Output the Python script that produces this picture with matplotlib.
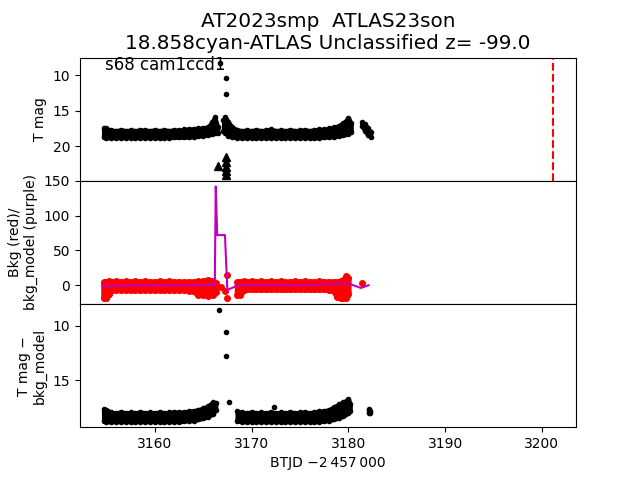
import matplotlib
matplotlib.use("Agg")
import matplotlib.pyplot as plt

# ---- top panel: T mag (dense band given as upper/lower envelope) ----
t_top_left = [3154.7, 3155.0, 3155.5, 3156.0, 3156.5, 3157.0, 3157.5, 3158.0, 3158.5,
              3159.0, 3159.5, 3160.0, 3160.5, 3161.0, 3161.5, 3162.0, 3162.5, 3163.0,
              3163.5, 3164.0, 3164.5, 3165.0, 3165.5, 3165.9, 3166.2, 3166.5]
mag_top_left_hi = [17.4, 17.5, 17.75, 17.8, 17.7, 17.8, 17.75, 17.8, 17.7, 17.75, 17.8, 17.7,
                   17.8, 17.7, 17.8, 17.7, 17.75, 17.65, 17.6, 17.55, 17.5, 17.4, 17.3, 16.6,
                   15.9, 17.3]
mag_top_left_lo = [18.75, 18.8, 18.8, 18.8, 18.8, 18.8, 18.8, 18.8, 18.8, 18.8, 18.8, 18.8,
                   18.8, 18.8, 18.8, 18.75, 18.75, 18.75, 18.7, 18.65, 18.6, 18.5, 18.4,
                   18.3, 18.2, 18.1]
t_top_right = [3167.1, 3167.3, 3167.6, 3168.0, 3168.5, 3169.0, 3169.5, 3170.0, 3170.5,
               3171.0, 3171.5, 3172.0, 3172.5, 3173.0, 3173.5, 3174.0, 3174.5, 3175.0,
               3175.5, 3176.0, 3176.5, 3177.0, 3177.5, 3178.0, 3178.5, 3179.0, 3179.5,
               3180.0, 3180.3]
mag_top_right_hi = [16.3, 15.9, 16.6, 17.3, 17.7, 17.8, 17.75, 17.8, 17.7, 17.8, 17.75, 17.6,
                    17.8, 17.75, 17.8, 17.7, 17.8, 17.75, 17.7, 17.8, 17.7, 17.65, 17.6,
                    17.5, 17.35, 17.1, 16.7, 16.0, 16.8]
mag_top_right_lo = [17.9, 18.2, 18.5, 18.7, 18.8, 18.8, 18.8, 18.8, 18.8, 18.8, 18.8, 18.8,
                    18.8, 18.8, 18.8, 18.8, 18.8, 18.8, 18.8, 18.8, 18.8, 18.8, 18.75, 18.7,
                    18.65, 18.55, 18.45, 18.25, 18.0]
t_top_tail = [3181.4, 3181.7, 3182.0, 3182.3]
mag_top_tail_hi = [16.6, 16.9, 17.4, 18.0]
mag_top_tail_lo = [17.2, 17.8, 18.4, 18.7]
t_top_bright = [3166.7, 3167.35, 3167.35]
mag_top_bright = [8.3, 10.4, 12.6]
t_limits = [3166.5, 3167.35, 3167.35, 3167.35, 3167.35, 3167.35]
mag_limits = [22.8, 21.5, 22.2, 22.9, 23.5, 24.1]
t_marker = 3201.2

# ---- middle panel: background (red) and background model (purple) ----
t_bkg_left = [3154.7, 3155.0, 3155.3, 3155.6, 3156.0, 3156.5, 3157.0, 3157.5, 3158.0, 3158.5,
              3159.0, 3159.5, 3160.0, 3160.5, 3161.0, 3161.5, 3162.0, 3162.5, 3163.0, 3163.5,
              3164.0, 3164.5, 3165.0, 3165.5, 3166.0, 3166.3]
bkg_left_hi = [4, 5, 5.5, 5, 5.5, 5, 5.5, 5, 5.5, 5, 5.5, 5, 5, 5.5, 5, 5.5, 5, 5, 4.5, 5,
               5, 5.5, 6, 8, 6, 3]
bkg_left_lo = [-19, -19, -12, -7, -7, -7, -7, -7, -7, -7, -7, -7, -7, -7, -7, -7, -7, -7,
               -7, -8, -9, -14, -14, -15, -14, -10]
t_bkg_right = [3168.5, 3168.8, 3169.2, 3169.5, 3170.0, 3170.5, 3171.0, 3171.5, 3172.0,
               3172.5, 3173.0, 3173.5, 3174.0, 3174.5, 3175.0, 3175.5, 3176.0, 3176.5,
               3177.0, 3177.5, 3178.0, 3178.5, 3178.8, 3179.2, 3179.5, 3179.8, 3180.0]
bkg_right_hi = [4, 5, 5.5, 5, 5.5, 5, 5.5, 5, 5.5, 5, 5.5, 5, 5, 5.5, 5, 5.5, 5, 5, 5.5, 5,
                5, 5, 5, 6, 8, 13, 10]
bkg_right_lo = [-14, -14, -7, -6, -6, -6, -6, -6, -6, -6, -6, -6, -6, -6, -6, -6, -6, -6,
                -6, -6, -7, -8, -17, -19, -19, -19, -12]
t_bkg_out = [3166.8, 3167.3, 3167.5, 3167.5, 3181.4]
bkg_out = [-2, -9, 15, -18, 2.5]
t_model = [3154.6, 3160.0, 3166.2, 3166.3, 3166.45, 3167.25, 3167.5, 3168.6, 3175.0,
           3180.0, 3181.3, 3182.1]
bkg_model = [-1, -0.5, 0, 142, 72, 72, -7, 0, 0, 2.5, -4, 0]

# ---- bottom panel: T mag - bkg_model ----
t_diff_left = [3154.7, 3155.0, 3155.5, 3156.0, 3156.5, 3157.0, 3157.5, 3158.0, 3158.5,
               3159.0, 3159.5, 3160.0, 3160.5, 3161.0, 3161.5, 3162.0, 3162.5, 3163.0,
               3163.5, 3164.0, 3164.5, 3165.0, 3165.5, 3166.0, 3166.3]
diff_left_hi = [17.65, 17.7, 17.95, 18.0, 17.9, 18.0, 17.95, 18.0, 17.9, 18.0, 17.95, 18.0,
                17.9, 18.0, 17.95, 17.9, 17.95, 17.9, 17.85, 17.8, 17.7, 17.55, 17.35, 17.0,
                17.1]
diff_left_lo = [18.75, 18.8, 18.8, 18.8, 18.8, 18.8, 18.8, 18.8, 18.8, 18.8, 18.8, 18.8,
                18.8, 18.8, 18.8, 18.8, 18.8, 18.75, 18.7, 18.7, 18.6, 18.5, 18.35, 18.1,
                17.7]
t_diff_right = [3168.5, 3169.0, 3169.5, 3170.0, 3170.5, 3171.0, 3171.5, 3172.0, 3172.5,
                3173.0, 3173.5, 3174.0, 3174.5, 3175.0, 3175.5, 3176.0, 3176.5, 3177.0,
                3177.5, 3178.0, 3178.5, 3179.0, 3179.5, 3180.0, 3180.2]
diff_right_hi = [17.85, 17.95, 18.0, 17.9, 18.0, 17.95, 18.0, 17.9, 18.0, 17.95, 18.0, 17.9,
                 18.0, 17.95, 17.9, 18.0, 17.9, 17.85, 17.8, 17.7, 17.45, 17.2, 17.0, 16.7,
                 17.2]
diff_right_lo = [18.75, 18.8, 18.8, 18.8, 18.8, 18.8, 18.8, 18.8, 18.8, 18.8, 18.8, 18.8,
                 18.8, 18.8, 18.8, 18.8, 18.8, 18.8, 18.75, 18.7, 18.6, 18.45, 18.3, 18.0,
                 17.8]
t_diff_tail = [3182.1, 3182.15, 3182.2]
diff_tail_hi = [17.7, 17.65, 17.8]
diff_tail_lo = [17.9, 18.05, 18.0]
t_diff_pts = [3166.6, 3167.35, 3167.35, 3167.65, 3172.35]
diff_pts = [8.5, 10.6, 12.8, 17.0, 17.5]

title = "AT2023smp  ATLAS23son\n18.858cyan-ATLAS Unclassified z= -99.0"

fig, (ax1, ax2, ax3) = plt.subplots(3, 1, sharex=True, figsize=(6.4, 4.8), dpi=100)
fig.subplots_adjust(hspace=0)


def band(ax, t, hi, lo, color, ms, lw):
    # dense cadence drawn as a filled envelope with dotted edges
    ax.fill_between(t, hi, lo, facecolor=color, edgecolor=color, linewidth=lw)
    ax.plot(t, hi, ".", color=color, ms=ms)
    ax.plot(t, lo, ".", color=color, ms=ms)


# top
for t, hi, lo in [(t_top_left, mag_top_left_hi, mag_top_left_lo),
                  (t_top_right, mag_top_right_hi, mag_top_right_lo),
                  (t_top_tail, mag_top_tail_hi, mag_top_tail_lo)]:
    band(ax1, t, hi, lo, "k", 6, 3)
ax1.plot(t_top_bright, mag_top_bright, "k.")
ax1.plot(t_limits, mag_limits, "k^", ms=6)
ax1.axvline(t_marker, color="r", ls="--", lw=1.5)
ax1.invert_yaxis()
ax1.set_ylabel("T mag")
ax1.set_title(title, fontsize=14.4)
ax1.text(0.05, 0.9, "s68 cam1ccd1", transform=ax1.transAxes, fontsize=12)

# middle
band(ax2, t_bkg_left, bkg_left_hi, bkg_left_lo, "r", 8, 4)
band(ax2, t_bkg_right, bkg_right_hi, bkg_right_lo, "r", 8, 4)
ax2.plot(t_bkg_out, bkg_out, "r.", ms=8)
ax2.plot(t_model, bkg_model, "m-", lw=1.5)
ax2.set_ylabel("Bkg (red)/\nbkg_model (purple)")

# bottom
band(ax3, t_diff_left, diff_left_hi, diff_left_lo, "k", 6, 3)
band(ax3, t_diff_right, diff_right_hi, diff_right_lo, "k", 6, 3)
band(ax3, t_diff_tail, diff_tail_hi, diff_tail_lo, "k", 6, 3)
ax3.plot(t_diff_pts, diff_pts, "k.")
ax3.invert_yaxis()
ax3.set_ylabel("T mag \u2212\nbkg_model")
ax3.set_xlabel("BTJD \u22122\u2009457\u2009000")

fig.savefig("out.png", dpi=100)
